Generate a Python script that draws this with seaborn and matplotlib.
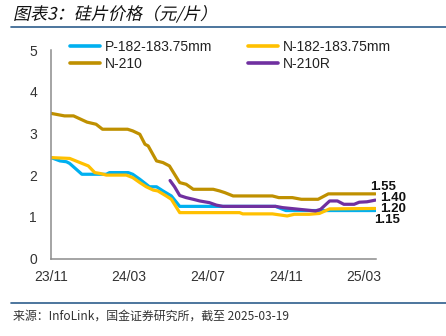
import numpy as np
import pandas as pd
import matplotlib
matplotlib.use("Agg")
import matplotlib.pyplot as plt
import matplotlib.dates as mdates
import matplotlib.patheffects as pe
from matplotlib.transforms import Affine2D
from matplotlib.lines import Line2D
import seaborn as sns

# ---------------- data ----------------
series_names = ["P-182-183.75mm", "N-182-183.75mm", "N-210", "N-210R"]
series_colors = ["#00B0F0", "#FFC000", "#BF9000", "#7030A0"]

p182_dates = ["2023-11-01", "2023-11-15", "2023-11-25", "2023-11-30", "2023-12-19",
              "2024-01-26", "2024-01-31", "2024-02-29", "2024-03-07", "2024-03-18",
              "2024-04-02", "2024-04-13", "2024-04-23", "2024-05-06", "2024-05-19",
              "2024-10-15", "2024-10-31", "2025-03-19"]
p182_vals = [2.42, 2.34, 2.32, 2.28, 2.02, 2.02, 2.06, 2.06, 2.02, 1.90,
             1.72, 1.72, 1.62, 1.50, 1.25, 1.25, 1.15, 1.15]

n182_dates = ["2023-11-01", "2023-11-30", "2023-12-16", "2023-12-29", "2024-01-08",
              "2024-01-16", "2024-01-26", "2024-02-26", "2024-03-07", "2024-03-18",
              "2024-03-28", "2024-04-08", "2024-04-15", "2024-04-28", "2024-05-06",
              "2024-05-19", "2024-08-20", "2024-08-25", "2024-10-10", "2024-11-02",
              "2024-11-13", "2024-12-06", "2024-12-22", "2025-01-07", "2025-03-19"]
n182_vals = [2.42, 2.40, 2.30, 2.22, 2.06, 2.04, 2.00, 2.00, 1.94, 1.82,
             1.72, 1.64, 1.62, 1.50, 1.42, 1.10, 1.10, 1.07, 1.07, 1.02,
             1.06, 1.06, 1.08, 1.19, 1.20]

n210_dates = ["2023-11-01", "2023-11-22", "2023-12-06", "2023-12-27", "2024-01-10",
              "2024-01-20", "2024-02-28", "2024-03-07", "2024-03-18", "2024-03-26",
              "2024-03-31", "2024-04-13", "2024-04-23", "2024-05-03", "2024-05-11",
              "2024-05-19", "2024-05-29", "2024-06-09", "2024-07-10", "2024-07-20",
              "2024-07-28", "2024-08-10", "2024-10-10", "2024-10-20", "2024-11-10",
              "2024-11-24", "2024-12-20", "2025-01-05", "2025-03-19"]
n210_vals = [3.48, 3.42, 3.42, 3.27, 3.22, 3.10, 3.10, 3.06, 2.98, 2.74,
             2.70, 2.34, 2.30, 2.22, 2.02, 1.82, 1.78, 1.66, 1.66, 1.62,
             1.58, 1.50, 1.50, 1.46, 1.46, 1.42, 1.42, 1.55, 1.55]

n210r_dates = ["2024-05-04", "2024-05-11", "2024-05-19", "2024-05-29", "2024-06-09",
               "2024-06-19", "2024-07-04", "2024-07-15", "2024-07-25", "2024-10-15",
               "2024-10-26", "2024-12-16", "2024-12-24", "2025-01-07", "2025-01-19",
               "2025-01-29", "2025-02-14", "2025-02-22", "2025-03-06", "2025-03-19"]
n210r_vals = [1.87, 1.72, 1.51, 1.46, 1.42, 1.38, 1.34, 1.28, 1.25, 1.25,
              1.22, 1.14, 1.18, 1.38, 1.38, 1.30, 1.30, 1.35, 1.36, 1.40]

end_labels = ["1.55", "1.40", "1.20", "1.15"]
end_series = ["N-210", "N-210R", "N-182-183.75mm", "P-182-183.75mm"]

x_tick_dates = ["2023-11-01", "2024-03-01", "2024-07-01", "2024-11-01", "2025-03-01"]
y_ticks = [0, 1, 2, 3, 4, 5]

title_text = "图表3：硅片价格（元/片）"
source_text = "来源：InfoLink，国金证券研究所，截至 2025-03-19"

# ---------------- frame ----------------
frames = []
for name, d, v in [(series_names[0], p182_dates, p182_vals),
                   (series_names[1], n182_dates, n182_vals),
                   (series_names[2], n210_dates, n210_vals),
                   (series_names[3], n210r_dates, n210r_vals)]:
    frames.append(pd.DataFrame({"date": pd.to_datetime(d), "price": v, "series": name}))
df = pd.concat(frames, ignore_index=True)

sns.set_style("white")
plt.rcParams["font.family"] = ["Liberation Sans", "Noto Sans CJK SC", "DejaVu Sans"]

W, H = 446, 336
fig = plt.figure(figsize=(W / 100, H / 100), dpi=100)
ax = fig.add_axes([51 / W, 1 - 258.5 / H, (376 - 51) / W, (258.5 - 50) / H])

sns.lineplot(data=df, x="date", y="price", hue="series", hue_order=series_names,
             palette=series_colors, estimator=None, sort=False, linewidth=2.3,
             ax=ax)

ax.set_xlim(pd.Timestamp("2023-11-01"), pd.Timestamp("2025-03-20"))
ax.set_ylim(0, 5)
ax.set_yticks(y_ticks)
ax.set_xticks(pd.to_datetime(x_tick_dates))
ax.xaxis.set_major_formatter(mdates.DateFormatter("%y/%m"))
ax.set_xlabel("")
ax.set_ylabel("")

for s in ["top", "right"]:
    ax.spines[s].set_visible(False)
for s in ["left", "bottom"]:
    ax.spines[s].set_color("#8C8C8C")
    ax.spines[s].set_linewidth(1.1)
ax.tick_params(axis="both", direction="in", length=3.5, width=1.0, color="#8C8C8C",
               labelsize=10, labelcolor="#333333")
ax.tick_params(axis="y", pad=10)
ax.tick_params(axis="x", pad=8)

# legend
handles, labels = ax.get_legend_handles_labels()
order = [0, 2, 1, 3]
leg = ax.legend([handles[i] for i in order], [labels[i] for i in order], ncol=2,
                loc="upper left", bbox_to_anchor=(70 / W, 1 - 40 / H),
                bbox_transform=fig.transFigure, frameon=False, fontsize=10,
                borderpad=0, borderaxespad=0, handlelength=2.15, handletextpad=0.35,
                columnspacing=2.6, labelspacing=0.22)
for t in leg.get_texts():
    t.set_color("#222222")
for h in leg.legend_handles:
    h.set_linewidth(2.6)

# end labels
offsets = {"N-210": (-3.6, 5.0), "N-210R": (3.6, 1.5),
           "N-182-183.75mm": (3.6, -0.2), "P-182-183.75mm": (-0.7, -6.6)}
for lab, ser in zip(end_labels, end_series):
    sub = df[df["series"] == ser]
    last = sub.iloc[-1]
    ax.annotate(lab, xy=(last["date"], last["price"]), xytext=offsets[ser],
                textcoords="offset points", ha="left", va="center",
                fontsize=9.5, fontweight="bold", color="#111111",
                annotation_clip=False)


# italic (skewed) title
class Skew(pe.AbstractPathEffect):
    def __init__(self, shear=0.22):
        super().__init__()
        self.shear = shear

    def draw_path(self, renderer, gc, tpath, affine, rgbFace=None):
        m = affine.get_matrix()
        tx, ty = m[0, 2], m[1, 2]
        sk = (Affine2D().translate(-tx, -ty)
              + Affine2D(np.array([[1.0, self.shear, 0.0], [0.0, 1.0, 0.0], [0.0, 0.0, 1.0]]))
              + Affine2D().translate(tx, ty))
        renderer.draw_path(gc, tpath, affine + sk, rgbFace)


fig.text(13 / W, 1 - 14.5 / H, title_text, fontsize=12.3, fontweight="medium",
         family=["Noto Sans CJK SC", "DejaVu Sans"], color="#111111",
         ha="left", va="center", path_effects=[Skew(0.22)])

fig.add_artist(Line2D([11 / W, 1.0], [1 - 26.5 / H, 1 - 26.5 / H],
                      transform=fig.transFigure, color="#2E5E8C", linewidth=1.2))
fig.add_artist(Line2D([11 / W, 1.0], [1 - 303 / H, 1 - 303 / H],
                      transform=fig.transFigure, color="#2E5E8C", linewidth=1.2))

fig.text(13 / W, 1 - 316 / H, source_text, fontsize=8.6,
         family=["Noto Sans CJK SC", "DejaVu Sans"], color="#333333",
         ha="left", va="center")

fig.savefig("out.png", dpi=100, facecolor="white")
